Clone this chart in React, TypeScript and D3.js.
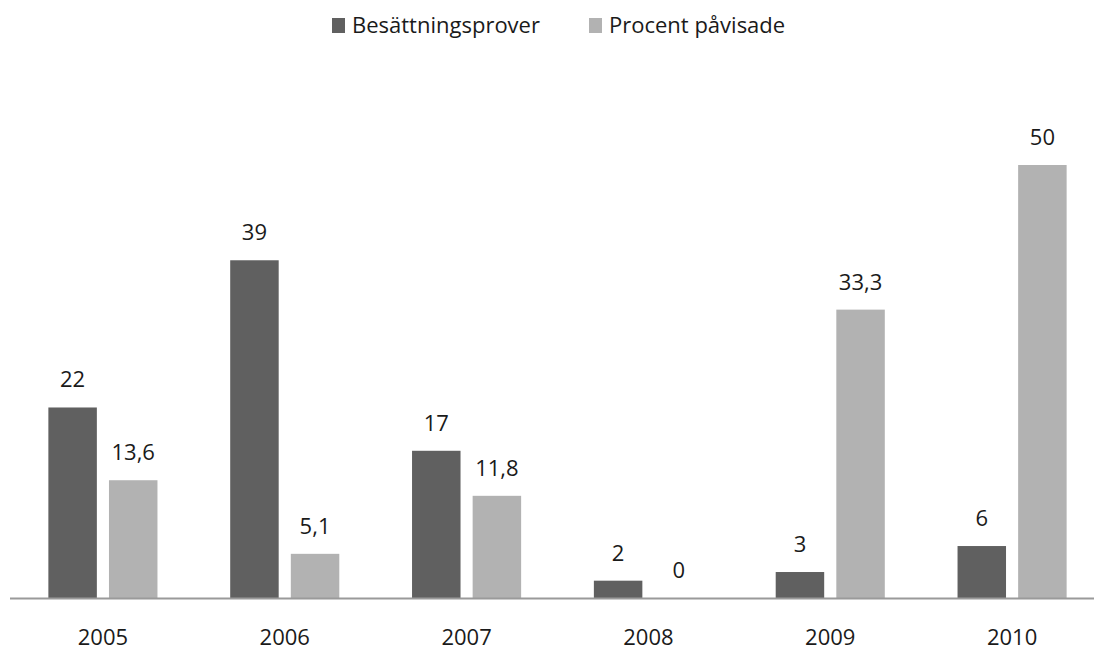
import React, { useEffect, useRef } from 'react';
import * as d3 from 'd3';

const years = ['2005', '2006', '2007', '2008', '2009', '2010'];
const seriesNames = ['Besättningsprover', 'Procent påvisade'];
const besattningsprover = [22, 39, 17, 2, 3, 6];
const procentPavisade = [13.6, 5.1, 11.8, 0, 33.3, 50];
const colors = ['#606060', '#b2b2b2'];

const W = 1094;
const H = 652;

const App = () => {
    const ref = useRef<SVGSVGElement | null>(null);

    useEffect(() => {
        if (!ref.current) return;
        const svg = d3.select(ref.current);
        svg.selectAll('*').remove();

        const font = "'Open Sans', sans-serif";
        const fmt = (v: number) => String(v).replace('.', ',');

        const x0 = d3.scaleBand<string>()
            .domain(years)
            .range([12, 1103])
            .paddingInner(0.4)
            .paddingOuter(0.2);

        const x1 = d3.scaleBand<string>()
            .domain(seriesNames)
            .range([0, x0.bandwidth()])
            .paddingInner(0.2);

        const y = d3.scaleLinear().domain([0, 50]).range([598, 165]);

        const rows = years.map((yr, i) => ({
            year: yr,
            values: [besattningsprover[i], procentPavisade[i]],
        }));

        const groups = svg.append('g')
            .selectAll('g')
            .data(rows)
            .join('g')
            .attr('transform', d => `translate(${x0(d.year)},0)`);

        groups.selectAll('rect')
            .data(d => d.values.map((v, k) => ({ v, k })))
            .join('rect')
            .attr('x', d => x1(seriesNames[d.k])!)
            .attr('width', x1.bandwidth())
            .attr('y', d => y(d.v))
            .attr('height', d => y(0) - y(d.v))
            .attr('fill', d => colors[d.k]);

        groups.selectAll('text')
            .data(d => d.values.map((v, k) => ({ v, k })))
            .join('text')
            .attr('x', d => x1(seriesNames[d.k])! + x1.bandwidth() / 2)
            .attr('y', d => y(d.v) - 20)
            .attr('text-anchor', 'middle')
            .attr('font-family', font)
            .attr('font-size', 22)
            .attr('fill', '#1a1a1a')
            .text(d => fmt(d.v));

        // baseline
        svg.append('line')
            .attr('x1', 10).attr('x2', W)
            .attr('y1', y(0) + 0.5).attr('y2', y(0) + 0.5)
            .attr('stroke', '#9a9a9a')
            .attr('stroke-width', 2);

        // year labels
        svg.append('g')
            .selectAll('text')
            .data(years)
            .join('text')
            .attr('x', d => x0(d)! + x0.bandwidth() / 2)
            .attr('y', 645)
            .attr('text-anchor', 'middle')
            .attr('font-family', font)
            .attr('font-size', 22)
            .attr('fill', '#1a1a1a')
            .text(d => d);

        // legend
        const legendX = [332, 589];
        const legend = svg.append('g')
            .selectAll('g')
            .data(seriesNames)
            .join('g')
            .attr('transform', (d, i) => `translate(${legendX[i]},0)`);
        legend.append('rect')
            .attr('x', 0).attr('y', 18)
            .attr('width', 13).attr('height', 15)
            .attr('fill', (d, i) => colors[i]);
        legend.append('text')
            .attr('x', 20).attr('y', 33)
            .attr('font-family', font)
            .attr('font-size', 22)
            .attr('fill', '#1a1a1a')
            .text(d => d);
    }, []);

    return (
        <svg ref={ref} width={W} height={H} style={{ display: 'block', position: 'absolute', left: 0, top: 0, background: '#fff' }} />
    );
};

export default App;
